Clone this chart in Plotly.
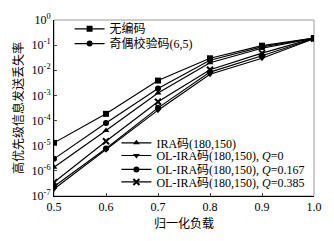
import plotly.graph_objects as go

x_load = [0.5, 0.6, 0.7, 0.8, 0.9, 1.0]
no_code = [1.3e-5, 1.85e-4, 3.9e-3, 3.0e-2, 9.5e-2, 0.19]
parity = [3.0e-6, 8.0e-5, 1.9e-3, 2.5e-2, 8.5e-2, 0.19]
ira = [1.4e-6, 4.0e-5, 1.25e-3, 2.0e-2, 7.5e-2, 0.185]
ol_q0 = [1.9e-7, 6.9e-6, 2.6e-4, 7.0e-3, 3.0e-2, 0.18]
ol_q167 = [2.4e-7, 7.8e-6, 3.2e-4, 8.5e-3, 3.8e-2, 0.18]
ol_q385 = [3.5e-7, 1.5e-5, 5.6e-4, 1.05e-2, 4.8e-2, 0.185]

names = ["无编码", "奇偶校验码(6,5)", "IRA码(180,150)",
         "OL-IRA码(180,150), <i>Q</i>=0",
         "OL-IRA码(180,150), <i>Q</i>=0.167",
         "OL-IRA码(180,150), <i>Q</i>=0.385"]
series = [no_code, parity, ira, ol_q0, ol_q167, ol_q385]
symbols = ["square", "circle", "triangle-up", "triangle-down", "circle", "x-thin"]

ytick_vals = [1e-7, 1e-6, 1e-5, 1e-4, 1e-3, 1e-2, 1e-1, 1]
ytick_text = ["10<sup>-7</sup>", "10<sup>-6</sup>", "10<sup>-5</sup>", "10<sup>-4</sup>",
              "10<sup>-3</sup>", "10<sup>-2</sup>", "10<sup>-1</sup>", "10<sup>0</sup>"]
xtick_vals = [0.5, 0.6, 0.7, 0.8, 0.9, 1.0]
xtick_text = ["0.5", "0.6", "0.7", "0.8", "0.9", "1.0"]

# legend placements (paper coords): one legend per entry
leg_pos = [(0.06, 0.950), (0.06, 0.866), (0.24, 0.302), (0.24, 0.230), (0.24, 0.151), (0.24, 0.080)]
leg_ids = ["legend", "legend2", "legend3", "legend4", "legend5", "legend6"]

fig = go.Figure()
for name, ys, sym, lg in zip(names, series, symbols, leg_ids):
    mk = dict(symbol=sym, size=6, color="black")
    if sym == "x-thin":
        mk = dict(symbol=sym, size=6, color="black", line=dict(width=2, color="black"))
    fig.add_trace(go.Scatter(x=x_load, y=ys, name=name, mode="lines+markers",
                             line=dict(color="black", width=1.2), marker=mk, legend=lg))

fnt = "Liberation Serif, Noto Sans CJK SC"
legend_layout = {}
for lg, (lx, ly) in zip(leg_ids, leg_pos):
    legend_layout[lg] = dict(x=lx, y=ly, xanchor="left", yanchor="middle",
                             bgcolor="rgba(0,0,0,0)", font=dict(size=12),
                             itemwidth=30, borderwidth=0)

fig.update_layout(
    width=334, height=241,
    margin=dict(l=54, r=18, t=12, b=41),
    paper_bgcolor="white", plot_bgcolor="white",
    font=dict(family=fnt, size=12, color="black"),
    showlegend=True,
    xaxis=dict(range=[0.5, 1.0], tickvals=xtick_vals, ticktext=xtick_text,
               ticks="inside", ticklen=3, showline=True, linecolor="black", mirror=False,
               showgrid=False, zeroline=False,
               title=dict(text="归一化负载", font=dict(size=12), standoff=6)),
    yaxis=dict(type="log", range=[-7, 0], tickvals=ytick_vals, ticktext=ytick_text,
               ticks="inside", ticklen=3, showline=True, linecolor="black", mirror=False,
               showgrid=False, zeroline=False,
               title=dict(text="高优先级信息发送丢失率", font=dict(size=12), standoff=5)),
    shapes=[dict(type="rect", xref="paper", yref="paper", x0=0, y0=0, x1=1, y1=1,
                 line=dict(color="#999999", width=1), layer="below")],
    **legend_layout,
)
fig.write_html("out.html", config={"displayModeBar": False})

with open("out.html", "r", encoding="utf-8") as f:
    html = f.read()
html = html.replace("<body>", '<body style="margin:0;padding:0;">', 1)
with open("out.html", "w", encoding="utf-8") as f:
    f.write(html)
